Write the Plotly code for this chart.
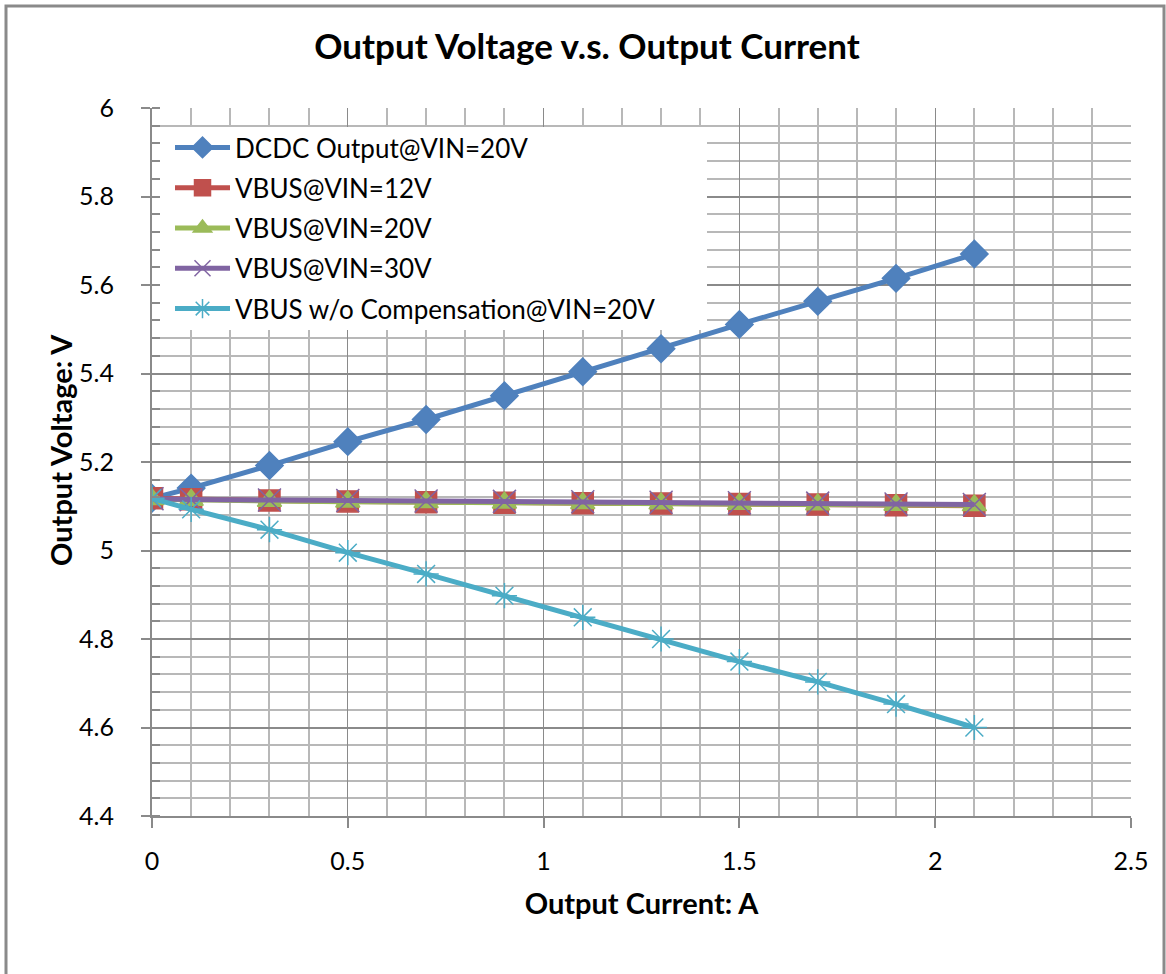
import plotly.graph_objects as go

current = [0, 0.1, 0.3, 0.5, 0.7, 0.9, 1.1, 1.3, 1.5, 1.7, 1.9, 2.1]
dcdc = [5.118, 5.141, 5.192, 5.246, 5.296, 5.350, 5.404, 5.456, 5.511, 5.563, 5.615, 5.670]
vbus12 = [5.118, 5.116, 5.113, 5.111, 5.109, 5.108, 5.107, 5.106, 5.105, 5.104, 5.102, 5.101]
vbus20 = [5.116, 5.114, 5.112, 5.110, 5.109, 5.108, 5.107, 5.106, 5.105, 5.104, 5.103, 5.102]
vbus30 = [5.117, 5.115, 5.114, 5.113, 5.112, 5.111, 5.110, 5.109, 5.108, 5.107, 5.105, 5.104]
nocomp = [5.118, 5.093, 5.047, 4.995, 4.947, 4.898, 4.849, 4.800, 4.749, 4.703, 4.653, 4.600]

names = ["DCDC Output@VIN=20V", "VBUS@VIN=12V", "VBUS@VIN=20V",
         "VBUS@VIN=30V", "VBUS w/o Compensation@VIN=20V"]
series = [dcdc, vbus12, vbus20, vbus30, nocomp]
colors = ["#4F81BD", "#C0504D", "#9BBB59", "#8064A2", "#4BACC6"]
symbols = ["diamond", "square", "triangle-up", "x-thin-open", "asterisk-open"]
sizes = [21, 21, 21, 23, 21]

FONT = "Lato"

fig = go.Figure()
for i, (nm, ys, c, s, sz) in enumerate(zip(names, series, colors, symbols, sizes)):
    fig.add_trace(go.Scatter(
        x=current, y=ys, name=nm, mode="lines+markers", legendgroup=f"g{i}",
        line=dict(color=c, width=5),
        marker=dict(symbol=s, size=sz, color=c, line=dict(color=c, width=1.5)),
    ))

L, R, T, B = 152, 35, 108, 158
W, H = 1166, 974
pw, ph = W - L - R, H - T - B

def px_x(p):
    return (p - L) / pw

def px_y(p):
    return (H - B - p) / ph

fig.update_layout(
    width=W, height=H,
    margin=dict(l=L, r=R, t=T, b=B),
    paper_bgcolor="white", plot_bgcolor="white",
    font=dict(family=FONT, color="black", size=22),
    title=dict(text="<b>Output Voltage v.s. Output Current</b>",
               x=(316 + 858) / 2 / W, xanchor="center", y=1 - 47 / H, yanchor="middle",
               font=dict(family=FONT, size=35, color="black")),
    showlegend=True,
    legend=dict(x=px_x(170), y=px_y(124), xanchor="left", yanchor="top",
                bgcolor="rgba(0,0,0,0)", borderwidth=0, itemwidth=55,
                font=dict(family=FONT, size=26, color="black"),
                tracegroupgap=3.5, itemsizing="trace"),
    xaxis=dict(range=[0, 2.5], dtick=0.5, tick0=0,
               showgrid=True, gridcolor="#8a8a8a", gridwidth=1,
               showline=True, linecolor="#8a8a8a", linewidth=2,
               ticks="outside", ticklen=10, tickcolor="#8a8a8a", tickwidth=1.5,
               tickfont=dict(family=FONT, size=25, color="black"),
               ticklabelstandoff=12,
               zeroline=False,
               minor=dict(dtick=0.1, showgrid=True, gridcolor="#b8b8b8", gridwidth=1.5),
               title=dict(text="<b>Output Current: A</b>",
                          font=dict(family=FONT, size=29, color="black"), standoff=20)),
    yaxis=dict(range=[4.4, 6.0], dtick=0.2, tick0=4.4,
               showgrid=True, gridcolor="#8a8a8a", gridwidth=1.5,
               showline=True, linecolor="#8a8a8a", linewidth=2,
               ticks="outside", ticklen=9, tickcolor="#8a8a8a", tickwidth=1.5,
               tickfont=dict(family=FONT, size=25, color="black"),
               ticklabelstandoff=22,
               zeroline=False,
               minor=dict(dtick=0.04, showgrid=True, gridcolor="#b8b8b8", gridwidth=1.5,
                          ticks="inside", ticklen=8, tickcolor="#8a8a8a")),
)

fig.add_annotation(text="<b>Output Voltage: V</b>", xref="paper", yref="paper",
                   x=px_x(60), y=px_y(450), xanchor="center", yanchor="middle",
                   textangle=-90, showarrow=False,
                   font=dict(family=FONT, size=29, color="black"))

# white legend panel (legend is drawn above shapes)
fig.add_shape(type="rect", xref="paper", yref="paper",
              x0=px_x(160), x1=px_x(707), y0=px_y(330), y1=px_y(127),
              line=dict(width=0), fillcolor="white", layer="above")

fig.add_shape(type="rect", xref="paper", yref="paper",
              x0=px_x(6), x1=px_x(1164), y0=px_y(1000), y1=px_y(6),
              line=dict(color="#8a8a8a", width=3), fillcolor="rgba(0,0,0,0)",
              layer="below")

fig.write_html("out.html")
